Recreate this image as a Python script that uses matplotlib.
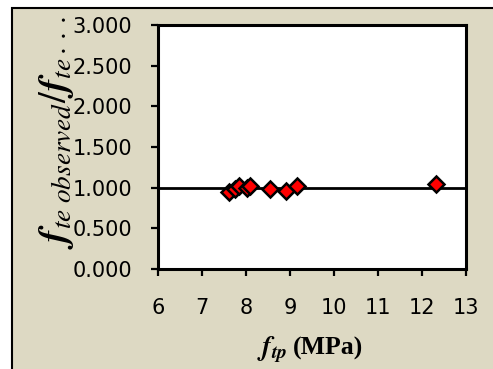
import matplotlib
matplotlib.use("Agg")
import matplotlib.pyplot as plt
from matplotlib.patches import Rectangle
from matplotlib.ticker import FormatStrFormatter

# Data
ftp = [7.62, 7.76, 7.85, 8.03, 8.09, 8.55, 8.92, 9.15, 12.31]
ratio = [0.95, 0.98, 1.02, 1.00, 1.025, 0.98, 0.96, 1.025, 1.05]
x_ticks = [6, 7, 8, 9, 10, 11, 12, 13]
y_ticks = [0.0, 0.5, 1.0, 1.5, 2.0, 2.5, 3.0]

plt.rcParams['mathtext.fontset'] = 'stix'

W, H = 493, 369
fig = plt.figure(figsize=(W / 100, H / 100), dpi=100, facecolor='white')

# beige chart area with black frame (extends past right/bottom edges)
bg = Rectangle((12 / W, -0.2), 1.5, 1 - 8 / H + 0.2, transform=fig.transFigure,
               facecolor='#DDD9C3', edgecolor='black', linewidth=1.5, zorder=-10)
fig.patches.append(bg)

ax = fig.add_axes([158 / W, 1 - 269 / H, (466 - 158) / W, (269 - 25) / H])
ax.set_facecolor('white')

ax.axhline(1.0, color='black', linewidth=2, zorder=2)
ax.plot(ftp, ratio, linestyle='none', marker='D', markersize=8.5,
        markerfacecolor='#FF0000', markeredgecolor='black', markeredgewidth=1.8, zorder=3)

ax.set_xlim(6, 13)
ax.set_ylim(0, 3)
ax.set_xticks(x_ticks)
ax.set_yticks(y_ticks)
ax.yaxis.set_major_formatter(FormatStrFormatter('%.3f'))

for s in ax.spines.values():
    s.set_linewidth(2.2)
    s.set_color('black')

ax.tick_params(axis='both', direction='out', length=5, width=1.6, labelsize=15,
               color='black', labelcolor='black')
ax.yaxis.set_tick_params(pad=13.5)
ax.xaxis.set_tick_params(pad=16)

# x axis title
fig.text(287 / W, 1 - 355 / H, r'$\mathbfit{f}_{\mathbfit{tp}}$',
         ha='right', va='baseline', fontsize=20)
fig.text(293 / W, 1 - 355 / H, '(MPa)',
         ha='left', va='baseline', fontsize=18.5, fontweight='bold',
         family='Liberation Serif')

# y axis title (truncated as in the original)
fig.text(57 / W, 1 - 249 / H,
         r'$\mathbfit{f}_{\mathit{te\ observed}}/\mathbfit{f}_{\mathit{te}\cdot\cdot\cdot}$',
         rotation=90, ha='center', va='bottom', fontsize=28)

fig.savefig('out.png', dpi=100, facecolor=fig.get_facecolor())
